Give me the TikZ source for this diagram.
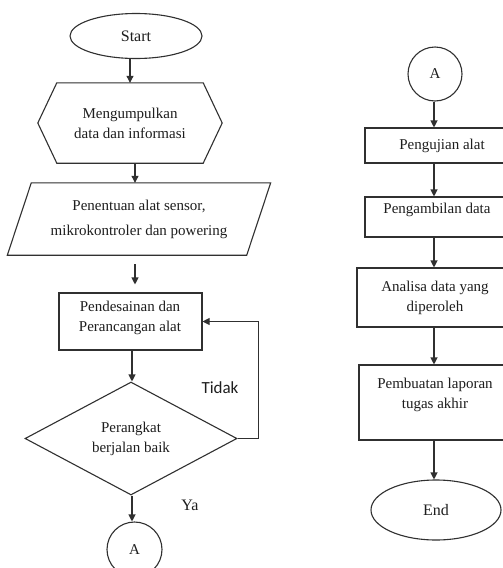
\documentclass[tikz,border=0pt]{standalone}
\usepackage{fontspec}
\setmainfont{Liberation Serif}
\newfontfamily\tidakfont{Carlito}
\usetikzlibrary{shapes.geometric,arrows.meta,calc}
\definecolor{lc}{HTML}{303030}
\definecolor{tc}{HTML}{1E1E1E}
\tikzset{
  lbl/.style={text=tc, align=center, inner sep=0pt, font=\fontsize{15}{20}\selectfont},
  shp/.style={draw=lc, line width=1.1pt},
  boxnode/.style={shp, rectangle, inner sep=0pt, lbl},
  ghost/.style={rectangle, inner sep=0pt, lbl},
  term/.style={shp, ellipse, inner sep=0pt, lbl, font=\fontsize{16}{20}\selectfont},
  conn/.style={shp, circle, inner sep=0pt, lbl, minimum size=54pt},
  arr/.style={draw=lc, line width=1.1pt, -{Triangle[length=7pt,width=7pt]}},
}
\begin{document}
\begin{tikzpicture}[x=1pt,y=-1pt]
\useasboundingbox (0,0) rectangle (503,568);
\clip (0,0) rectangle (503,568);
\fill[white] (0,0) rectangle (503,568);
% ---------------- left column ----------------
\node[term, minimum width=132pt, minimum height=45pt] (start) at (136,36) {Start};
\node[ghost, minimum width=146pt, minimum height=80pt] (hex) at (130,123) {Mengumpulkan\\data dan informasi};
\draw[shp] ($(hex.west)+(-19,0)$) -- (hex.north west) -- (hex.north east) -- ($(hex.east)+(19,0)$) -- (hex.south east) -- (hex.south west) -- cycle;
\node[ghost, minimum width=239pt, minimum height=72pt, font=\fontsize{15}{25}\selectfont] (para) at (139,219) {Penentuan alat sensor,\\mikrokontroler dan powering};
\draw[shp] ($(para.north west)+(12,0)$) -- ($(para.north east)+(12,0)$) -- ($(para.south east)+(-12,0)$) -- ($(para.south west)+(-12,0)$) -- cycle;
\node[boxnode, minimum width=143pt, minimum height=57pt] (box1) at (130.5,321.5) {};
\node[lbl] (box1t) at (130,318) {Pendesainan dan\\Perancangan alat};
\node[shp, diamond, aspect=1.88, minimum width=212pt, minimum height=113pt, inner sep=0pt, lbl] (dia) at (131,438.5) {Perangkat\\berjalan baik};
\node[conn, minimum size=55pt] (a1) at (134.5,549.5) {A};
\node[text=tc, inner sep=0pt, font=\tidakfont\fontsize{17}{20}\selectfont] (tidak) at (220,388) {Tidak};
\node[lbl, font=\fontsize{16}{20}\selectfont] (ya) at (190,505) {Ya};
\coordinate (lx1) at (135,0);
\coordinate (lx2) at (132,0);
\draw[arr] (start.south -| hex) -- (hex.north);
\draw[arr] (hex.south -| lx1) -- (para.north -| lx1);
\draw[arr, shorten <=9pt, shorten >=8pt] (para.south -| lx1) -- (box1.north -| lx1);
\draw[arr] (box1.south -| lx2) -- (dia.north -| lx2);
\draw[arr] (dia.south -| lx2) -- (a1.north -| lx2);
\draw[arr] (dia.east) -- ++(21,0) |- (box1.east);
% ---------------- right column ----------------
\node[conn] (a2) at (435,74) {A};
\node[boxnode, minimum width=154pt, minimum height=35pt] (r1) at (442,145.5) {Pengujian alat};
\node[boxnode, minimum width=145pt, minimum height=40pt] (r2) at (437.5,217) {};
\node[lbl] (r2t) at (437,210) {Pengambilan data};
\node[boxnode, minimum width=156pt, minimum height=59pt] (r3) at (435,297.5) {Analisa data yang\\diperoleh};
\node[boxnode, minimum width=152pt, minimum height=75pt] (r4) at (435,402.5) {};
\node[lbl] (r4t) at (435,395) {Pembuatan laporan\\tugas akhir};
\node[term, minimum width=130pt, minimum height=60pt] (end) at (436,510) {End};
\coordinate (rx) at (434,0);
\draw[arr] (a2.south -| rx) -- (r1.north -| rx);
\draw[arr] (r1.south -| rx) -- (r2.north -| rx);
\draw[arr] (r2.south -| rx) -- (r3.north -| rx);
\draw[arr] (r3.south -| rx) -- (r4.north -| rx);
\draw[arr] (r4.south -| rx) -- (end.north -| rx);
\end{tikzpicture}
\end{document}
